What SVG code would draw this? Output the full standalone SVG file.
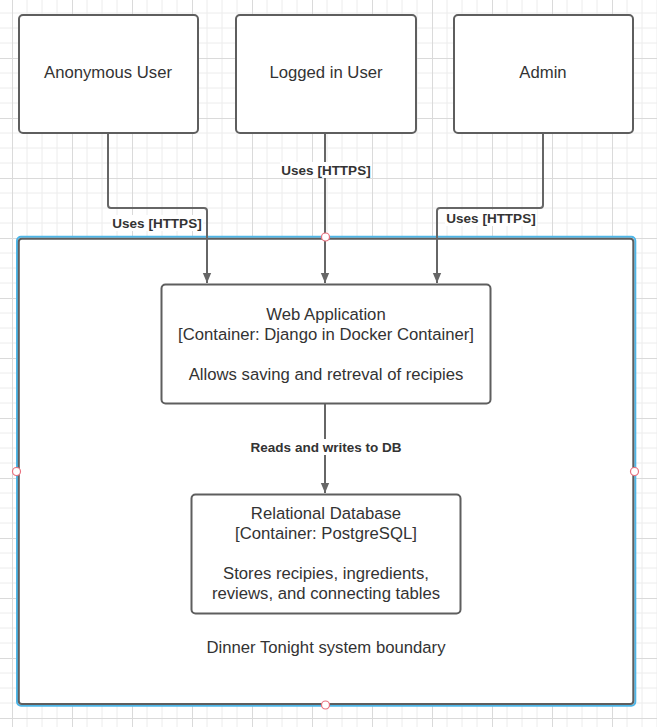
<svg xmlns="http://www.w3.org/2000/svg" width="657" height="727" viewBox="0 0 657 727">
  <style>
    .node { fill: #ffffff; stroke: #5e5e5e; stroke-width: 2; }
    .t { font-family: "Liberation Sans", Arial, sans-serif; font-size: 16.7px; fill: #333333; text-anchor: middle; }
    .lbl { font-family: "Liberation Sans", Arial, sans-serif; font-size: 13.5px; font-weight: bold; fill: #333333; text-anchor: middle; }
    .lblbg { fill: #ffffff; }
    .conn { fill: none; stroke: #666666; stroke-width: 2; }
    .handle { fill: #ffffff; stroke: #e8707e; stroke-width: 1.2; }
  </style>
  <defs>
    <pattern id="grid" patternUnits="userSpaceOnUse" x="12" y="-2" width="60" height="60">
      <path d="M15 0V60M30 0V60M45 0V60M0 15H60M0 30H60M0 45H60" stroke="#ececec" stroke-width="1" fill="none"/>
      <path d="M0.5 0V60M0 0.5H60" stroke="#dadada" stroke-width="1" fill="none"/>
    </pattern>
    <marker id="arr" markerWidth="10" markerHeight="12" refX="12" refY="5" orient="auto" markerUnits="userSpaceOnUse" viewBox="0 0 12 10">
      <path d="M0 0L12 5L0 10Z" fill="#666666"/>
    </marker>
  </defs>
  <rect x="0" y="0" width="657" height="727" fill="#ffffff"/>
  <rect x="0" y="0" width="657" height="727" fill="url(#grid)"/>

  <g id="boundary">
    <rect x="17" y="236.8" width="618.3" height="469" rx="4" fill="#ffffff" stroke="#4db6e8" stroke-width="2"/>
    <rect x="18.8" y="238.8" width="614.5" height="465.2" rx="3" fill="#ffffff" stroke="#5e5e5e" stroke-width="2"/>
    <text class="t" x="326" y="653">Dinner Tonight system boundary</text>
  </g>

  <g id="connectors">
    <path class="conn" d="M108 134V205Q108 208 111 208H204Q207 208 207 211V283" marker-end="url(#arr)"/>
    <path class="conn" d="M325 134V283" marker-end="url(#arr)"/>
    <path class="conn" d="M543 134V205Q543 208 540 208H440Q437 208 437 211V283" marker-end="url(#arr)"/>
    <path class="conn" d="M325 404V493" marker-end="url(#arr)"/>
    <g id="label-anon">
      <rect class="lblbg" x="111" y="215" width="92" height="16"/>
      <text class="lbl" x="157" y="228">Uses [HTTPS]</text>
    </g>
    <g id="label-logged">
      <rect class="lblbg" x="280" y="162" width="92" height="16"/>
      <text class="lbl" x="326" y="175">Uses [HTTPS]</text>
    </g>
    <g id="label-admin">
      <rect class="lblbg" x="445" y="210" width="92" height="16"/>
      <text class="lbl" x="491" y="223">Uses [HTTPS]</text>
    </g>
    <g id="label-db">
      <rect class="lblbg" x="249" y="439" width="154" height="16"/>
      <text class="lbl" x="326" y="452">Reads and writes to DB</text>
    </g>
  </g>

  <g id="anonymous-user">
    <rect class="node" x="19" y="15" width="179" height="118" rx="4"/>
    <text class="t" x="108" y="78">Anonymous User</text>
  </g>
  <g id="logged-in-user">
    <rect class="node" x="236" y="15" width="180" height="118" rx="4"/>
    <text class="t" x="326" y="78">Logged in User</text>
  </g>
  <g id="admin">
    <rect class="node" x="454" y="15" width="179" height="118" rx="4"/>
    <text class="t" x="543" y="78">Admin</text>
  </g>
  <g id="web-application">
    <rect class="node" x="161.5" y="284.5" width="329" height="119" rx="4"/>
    <text class="t" x="326" y="320">Web Application</text>
    <text class="t" x="326" y="340">[Container: Django in Docker Container]</text>
    <text class="t" x="326" y="380">Allows saving and retreval of recipies</text>
  </g>
  <g id="relational-database">
    <rect class="node" x="191.5" y="494.5" width="269" height="119" rx="4"/>
    <text class="t" x="326" y="519">Relational Database</text>
    <text class="t" x="326" y="539">[Container: PostgreSQL]</text>
    <text class="t" x="326" y="579">Stores recipies, ingredients,</text>
    <text class="t" x="326" y="599">reviews, and connecting tables</text>
  </g>

  <g id="handles">
    <circle class="handle" cx="325.5" cy="237" r="4"/>
    <circle class="handle" cx="16.5" cy="471.5" r="4"/>
    <circle class="handle" cx="634.5" cy="471.5" r="4"/>
    <circle class="handle" cx="325.5" cy="705" r="4"/>
  </g>
</svg>
